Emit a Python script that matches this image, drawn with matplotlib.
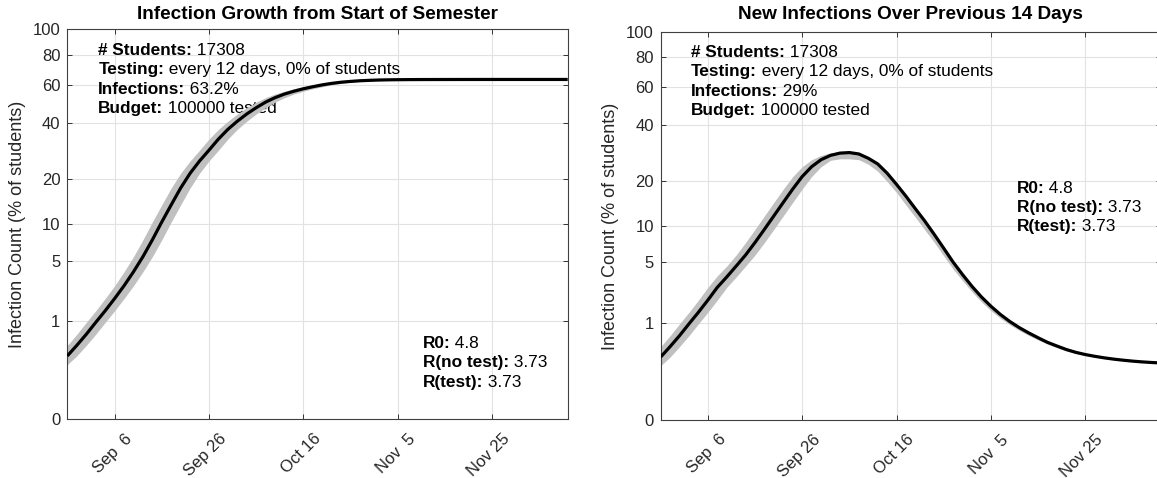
import datetime as dt
import numpy as np
import matplotlib
matplotlib.use('Agg')
import matplotlib.pyplot as plt
import matplotlib.dates as mdates
from matplotlib.transforms import ScaledTranslation

plt.rcParams['font.family'] = ['Liberation Sans', 'DejaVu Sans']

# time axis: start of semester + day offsets (every 2 days)
start = dt.date(2020, 8, 27)
day_offsets = list(range(0, 107, 2))

# cumulative infections (% of students), with grey spread band
cum_infected = [0.234, 0.39, 0.62, 0.96, 1.40, 2.0, 2.8, 3.9, 5.4, 7.5,
                10.3, 13.6, 17.5, 21.5, 25.3, 29.0, 33.2, 37.2, 40.8, 44.2,
                47.3, 50.2, 52.6, 54.6, 56.2, 57.6, 58.8, 59.9, 60.8, 61.5,
                62.0, 62.4, 62.65, 62.85, 62.97, 63.05, 63.1, 63.13, 63.15, 63.16,
                63.17, 63.18, 63.19, 63.19, 63.2, 63.2, 63.2, 63.2, 63.2, 63.2,
                63.2, 63.2, 63.2, 63.2]
cum_hi = [0.39, 0.62, 0.96, 1.40, 2.0, 2.8, 3.9, 5.4, 7.5, 10.3,
          13.6, 17.5, 21.5, 25.3, 29.0, 33.2, 37.2, 40.8, 44.2, 47.3,
          50.2, 52.6, 54.6, 56.2, 57.6, 58.8, 59.9, 60.8, 61.5, 62.0,
          62.4, 62.65, 62.85, 62.97, 63.05, 63.1, 63.13, 63.15, 63.16, 63.17,
          63.18, 63.19, 63.19, 63.2, 63.2, 63.2, 63.2, 63.2, 63.2, 63.2,
          63.2, 63.2, 63.2, 63.2]
cum_lo = [0.143, 0.234, 0.39, 0.62, 0.96, 1.40, 2.0, 2.8, 3.9, 5.4,
          7.5, 10.3, 13.6, 17.5, 21.5, 25.3, 29.0, 33.2, 37.2, 40.8,
          44.2, 47.3, 50.2, 52.6, 54.6, 56.2, 57.6, 58.8, 59.9, 60.8,
          61.5, 62.0, 62.4, 62.65, 62.85, 62.97, 63.05, 63.1, 63.13, 63.15,
          63.16, 63.17, 63.18, 63.19, 63.19, 63.2, 63.2, 63.2, 63.2, 63.2,
          63.2, 63.2, 63.2, 63.2]

# new infections over previous 14 days (% of students)
new14 = [0.234, 0.39, 0.62, 0.96, 1.40, 2.0, 2.8, 3.6, 4.6, 5.8,
         7.4, 9.4, 11.8, 14.6, 17.8, 21.2, 24.2, 26.5, 28.0, 28.8,
         29.0, 28.5, 27.0, 25.1, 22.2, 19.0, 16.0, 13.2, 10.8, 8.57,
         6.63, 5.0, 3.80, 2.87, 2.18, 1.68, 1.31, 1.04, 0.84, 0.69,
         0.57, 0.47, 0.40, 0.34, 0.297, 0.266, 0.243, 0.224, 0.209, 0.197,
         0.187, 0.179, 0.173, 0.168]
new14_hi = [0.39, 0.62, 0.96, 1.40, 2.0, 2.8, 3.7, 4.6, 5.8, 7.4,
            9.4, 11.8, 14.6, 17.8, 21.2, 24.2, 26.5, 28.0, 28.9, 29.3,
            29.3, 28.8, 27.2, 25.3, 22.4, 19.1, 16.1, 13.3, 10.9, 8.65,
            6.7, 5.05, 3.83, 2.9, 2.2, 1.7, 1.32, 1.05, 0.85, 0.695,
            0.575, 0.475, 0.403, 0.343, 0.3, 0.268, 0.245, 0.226, 0.21, 0.198,
            0.188, 0.18, 0.174, 0.169]
new14_lo = [0.143, 0.234, 0.39, 0.62, 0.96, 1.40, 2.0, 2.8, 3.6, 4.6,
            5.8, 7.4, 9.4, 11.8, 14.6, 17.8, 21.2, 24.2, 26.3, 26.8,
            26.8, 26.5, 25.0, 22.8, 19.8, 16.9, 14.0, 11.5, 9.3, 7.4,
            5.7, 4.3, 3.3, 2.5, 1.9, 1.47, 1.16, 0.93, 0.76, 0.625,
            0.52, 0.435, 0.37, 0.318, 0.28, 0.254, 0.234, 0.216, 0.203, 0.192,
            0.183, 0.176, 0.171, 0.166]

y_ticks = [0, 1, 5, 10, 20, 40, 60, 80, 100]
x_tick_dates = [dt.date(2020, 9, 6), dt.date(2020, 9, 26), dt.date(2020, 10, 16),
                dt.date(2020, 11, 5), dt.date(2020, 11, 25)]
x_tick_labels = ['Sep  6', 'Sep 26', 'Oct 16', 'Nov  5', 'Nov 25']

stats_left = [('# Students:', ' 17308'), ('Testing:', ' every 12 days, 0% of students'),
              ('Infections:', ' 63.2%'), ('Budget:', ' 100000 tested')]
stats_right = [('# Students:', ' 17308'), ('Testing:', ' every 12 days, 0% of students'),
               ('Infections:', ' 29%'), ('Budget:', ' 100000 tested')]
r_rows = [('R0:', ' 4.8'), ('R(no test):', ' 3.73'), ('R(test):', ' 3.73')]

dates = [start + dt.timedelta(days=d) for d in day_offsets]


def fwd(v):
    return np.power(np.clip(v, 0, None), 0.3)


def inv(v):
    return np.power(np.clip(v, 0, None), 1 / 0.3)


def text_block(ax, x, y, rows, fs=12.4, step=14):
    for i, (k, v) in enumerate(rows):
        t = ax.annotate(k, xy=(x, y), xycoords='axes fraction', xytext=(0, -i * step),
                        textcoords='offset points', fontsize=fs, fontweight='bold',
                        va='baseline', ha='left', zorder=1)
        ax.annotate(v, xy=(1, 0), xycoords=t, fontsize=fs, va='bottom', ha='left', zorder=1)


def panel(ax, y, lo, hi, title, title_pad):
    ax.fill_between(dates, lo, hi, color='#c0c0c0', lw=0, zorder=2)
    ax.plot(dates, y, color='k', lw=2.3, zorder=3, solid_capstyle='butt')
    ax.set_yscale('function', functions=(fwd, inv))
    ax.set_ylim(0, 100)
    ax.set_yticks(y_ticks, labels=[str(t) for t in y_ticks])
    ax.minorticks_off()
    ax.set_xlim(start, start + dt.timedelta(days=106))
    ax.set_xticks([mdates.date2num(d) for d in x_tick_dates], labels=x_tick_labels,
                  rotation=45, ha='right', va='top', rotation_mode='anchor')
    ax.tick_params(direction='in', length=3.6, width=0.7, top=True, right=True,
                   color='#333333', labelcolor='#262626', labelsize=12)
    ax.tick_params(axis='x', pad=8.6)
    ax.tick_params(axis='y', pad=5)
    ax.grid(True, color='#e2e2e2', lw=0.8)
    ax.set_axisbelow(True)
    for s in ax.spines.values():
        s.set_color('#404040')
        s.set_linewidth(0.8)
    ax.set_title(title, fontsize=13.7, fontweight='bold', pad=title_pad)
    ax.set_ylabel('Infection Count (% of students)', fontsize=13, color='#262626', labelpad=5)


fig = plt.figure(figsize=(11.57, 4.78), dpi=100)
ax1 = fig.add_axes([67.3 / 1157, (478 - 419.3) / 478, 500.4 / 1157, 390 / 478])
ax2 = fig.add_axes([660.7 / 1157, (478 - 420) / 478, 500 / 1157, 387.7 / 478])

panel(ax1, cum_infected, cum_lo, cum_hi, 'Infection Growth from Start of Semester', 7.7)
panel(ax2, new14, new14_lo, new14_hi, 'New Infections Over Previous 14 Days', 9.4)

text_block(ax1, 0.062, 0.934, stats_left)
text_block(ax1, 0.710, 0.182, r_rows, step=13.8)
text_block(ax2, 0.0606, 0.937, stats_right)
text_block(ax2, 0.712, 0.586, r_rows, step=13.8)

fig.canvas.draw()
shift = ScaledTranslation(0.10, 0, fig.dpi_scale_trans)
for ax in (ax1, ax2):
    for lab in ax.get_xticklabels():
        lab.set_transform(lab.get_transform() + shift)

fig.savefig('out.png', dpi=100)
